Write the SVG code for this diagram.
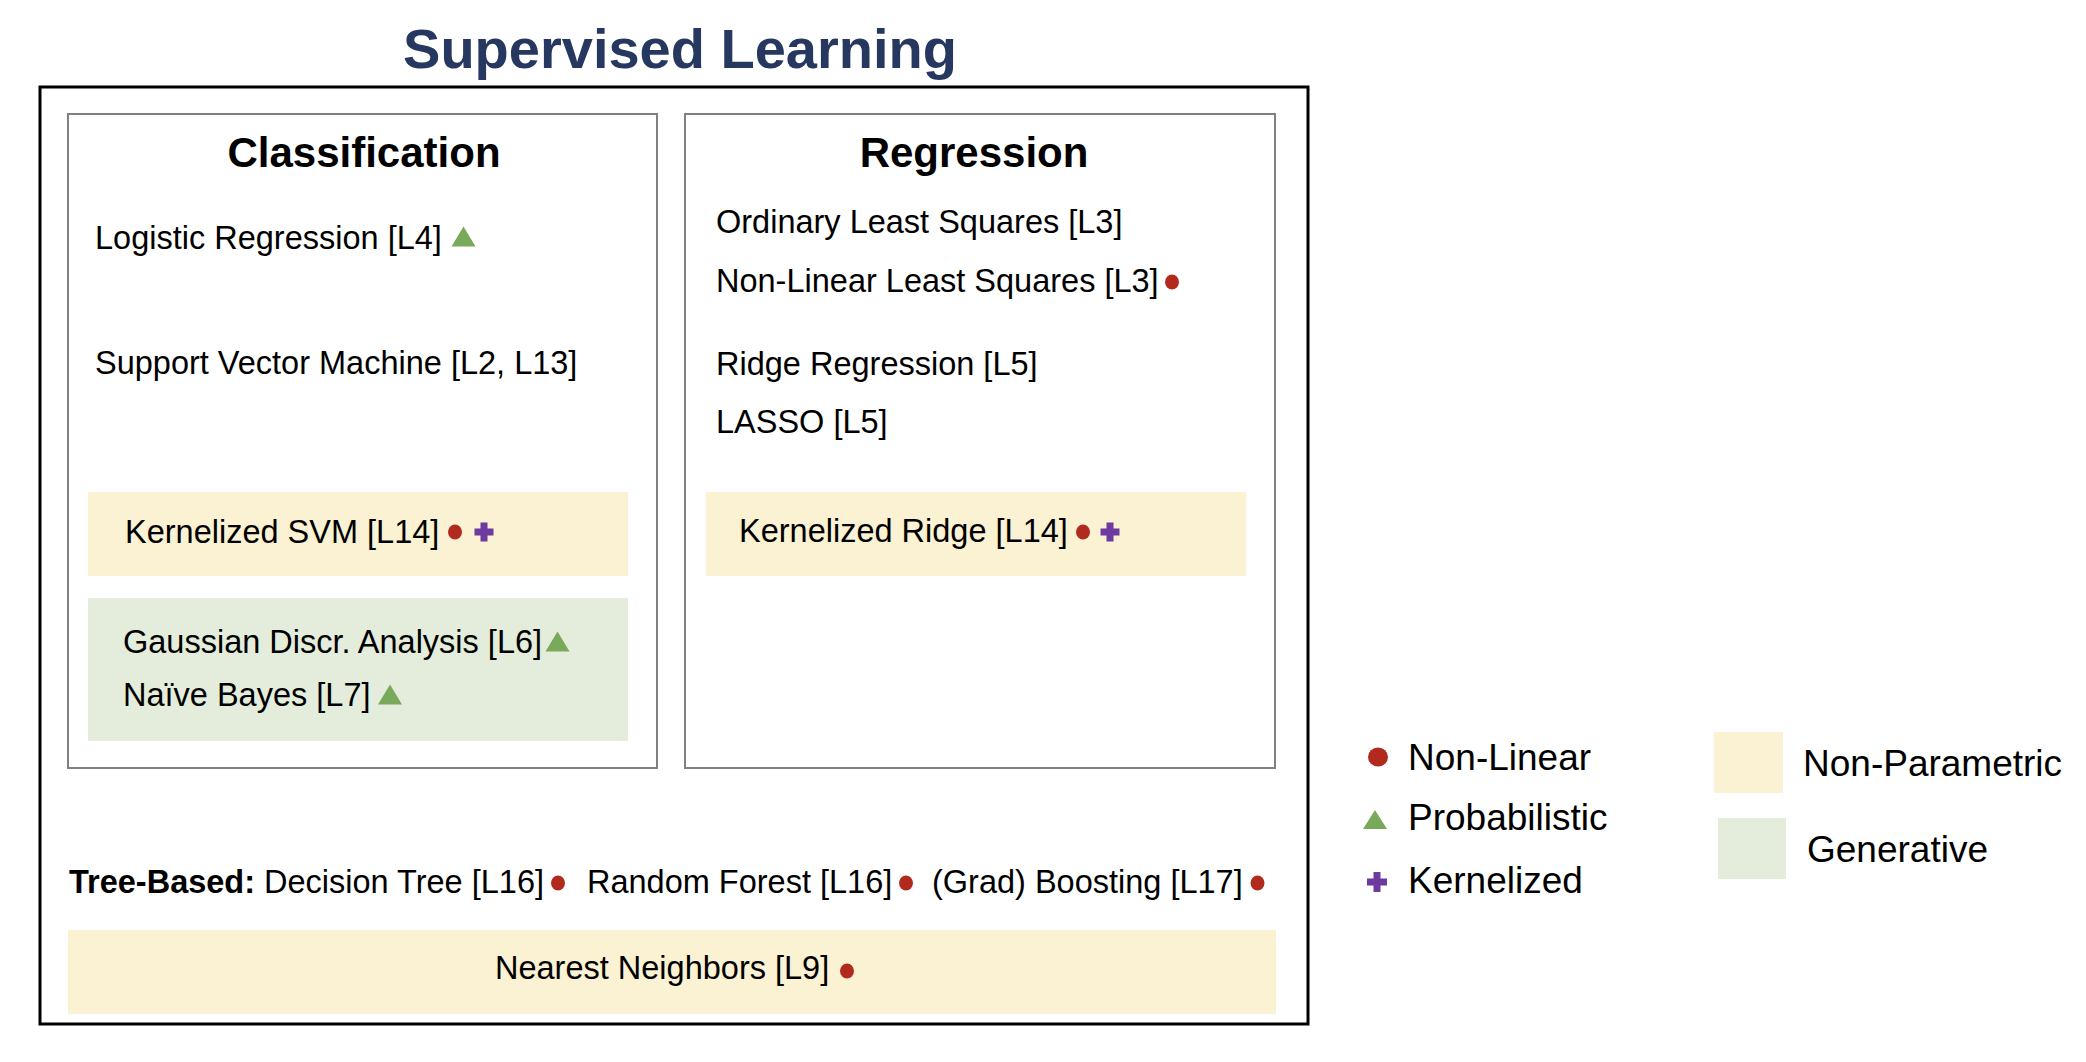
<svg xmlns="http://www.w3.org/2000/svg" xmlns:xlink="http://www.w3.org/1999/xlink" width="2086" height="1062" viewBox="0 0 2086 1062">
<style>
  text { font-family: "Liberation Sans", Arial, Helvetica, sans-serif; fill: #000; }
  .item { font-size: 32.5px; }
  .head { font-size: 42px; font-weight: bold; }
  .title { font-size: 56px; font-weight: bold; fill: #26385f; }
  .legend { font-size: 37px; }
  .panel { fill: #fff; stroke: #808080; stroke-width: 2; }
  .np { fill: #fbf1d3; }
  .gen { fill: #e4eddb; }
  .red { fill: #b22a1e; }
  .green { fill: #79a95b; }
  .purple { fill: #6c3aa0; }
</style>
<defs>
  <ellipse id="dot" class="red" cx="0" cy="0" rx="7" ry="7.5"/>
  <polygon id="tri" class="green" points="0,-10 12,10 -12,10"/>
  <path id="plus" class="purple" d="M-3.5,-9.5h7v6h6v7h-6v6h-7v-6h-6v-7h6z"/>
</defs>
<rect width="2086" height="1062" fill="#fff"/>
<g id="title"><text class="title" x="680" y="68" text-anchor="middle">Supervised Learning</text></g>
<g id="supervised"><rect x="40" y="87" width="1268" height="937" fill="none" stroke="#000" stroke-width="3"/></g>
<g id="classification">
  <rect class="panel" x="68" y="114" width="589" height="654"/>
  <text class="head" x="364" y="167" text-anchor="middle">Classification</text>
  <g id="logistic"><text class="item" x="95" y="249">Logistic Regression [L4]</text><use xlink:href="#tri" x="463.5" y="236.5"/></g>
  <g id="svm"><text class="item" x="95" y="374">Support Vector Machine [L2, L13]</text></g>
  <g id="ksvm"><rect class="np" x="88" y="492" width="540" height="84"/><text class="item" x="125" y="543">Kernelized SVM [L14]</text><use xlink:href="#dot" x="455" y="532"/><use xlink:href="#plus" x="484" y="532"/></g>
  <g id="generative"><rect class="gen" x="88" y="598" width="540" height="143"/>
    <text class="item" x="123" y="653">Gaussian Discr. Analysis [L6]</text><use xlink:href="#tri" x="557.5" y="641.5"/>
    <text class="item" x="123" y="706">Naïve Bayes [L7]</text><use xlink:href="#tri" x="390" y="694.5"/></g>
</g>
<g id="regression">
  <rect class="panel" x="685" y="114" width="590" height="654"/>
  <text class="head" x="974" y="167" text-anchor="middle">Regression</text>
  <g id="ols"><text class="item" x="716" y="233">Ordinary Least Squares [L3]</text></g>
  <g id="nlls"><text class="item" x="716" y="292">Non-Linear Least Squares [L3]</text><use xlink:href="#dot" x="1172" y="282"/></g>
  <g id="ridge"><text class="item" x="716" y="375">Ridge Regression [L5]</text></g>
  <g id="lasso"><text class="item" x="716" y="433">LASSO [L5]</text></g>
  <g id="kridge"><rect class="np" x="706" y="492" width="540" height="84"/><text class="item" x="739" y="542">Kernelized Ridge [L14]</text><use xlink:href="#dot" x="1083" y="532"/><use xlink:href="#plus" x="1110" y="532"/></g>
</g>
<g id="tree-based">
  <text class="item" x="69" y="893" font-weight="bold">Tree-Based:</text>
  <text class="item" x="264" y="893">Decision Tree [L16]</text><use xlink:href="#dot" x="558" y="883"/>
  <text class="item" x="587" y="893">Random Forest [L16]</text><use xlink:href="#dot" x="906" y="883"/>
  <text class="item" x="932" y="893">(Grad) Boosting [L17]</text><use xlink:href="#dot" x="1257.5" y="883"/>
</g>
<g id="nearest-neighbors">
  <rect class="np" x="68" y="930" width="1208" height="84"/>
  <text class="item" x="495" y="979">Nearest Neighbors [L9]</text><use xlink:href="#dot" x="847" y="971"/>
</g>
<g id="legend">
  <ellipse class="red" cx="1378" cy="757" rx="10" ry="9.5"/><text class="legend" x="1408" y="770">Non-Linear</text>
  <polygon class="green" points="1375,810 1387,829 1363,829"/><text class="legend" x="1408" y="830">Probabilistic</text>
  <path class="purple" d="M1373.5,872h7v6.5h6.5v7h-6.5v6.5h-7v-6.5h-6.5v-7h6.5z"/><text class="legend" x="1408" y="893">Kernelized</text>
  <rect class="np" x="1714" y="732" width="69" height="61"/><text class="legend" x="1803" y="776">Non-Parametric</text>
  <rect class="gen" x="1718" y="818" width="68" height="61"/><text class="legend" x="1807" y="862">Generative</text>
</g>
<g id="connectors"/>
</svg>
